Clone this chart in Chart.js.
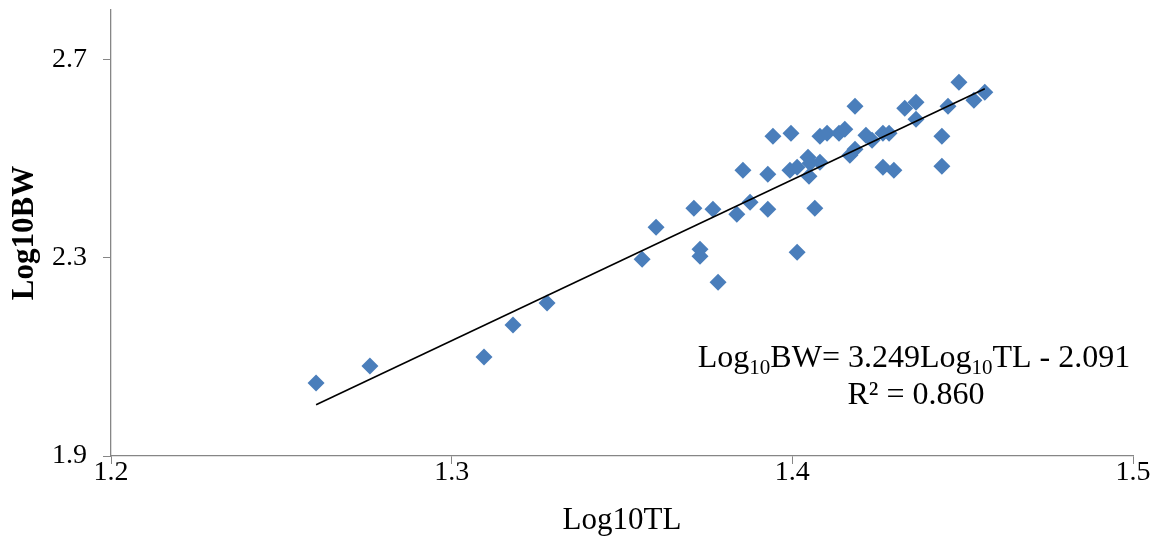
<!DOCTYPE html>
<html>
<head>
<meta charset="utf-8">
<script src="https://cdn.jsdelivr.net/npm/chart.js@4/dist/chart.umd.min.js"></script>
<style>
  html, body { margin: 0; padding: 0; background: #fff; }
  #wrap { width: 1157px; height: 536px; }
</style>
</head>
<body>
<div id="wrap"><canvas id="myChart" width="1157" height="536"></canvas></div>
<script>
// Log10 total length vs Log10 body weight
const tlValues = [
    1.2602, 1.2760, 1.3095, 1.3180, 1.3280, 1.3559, 1.3600, 1.3711, 1.3729, 1.3729,
    1.3767, 1.3782, 1.3837, 1.3855, 1.3876, 1.3928, 1.3928, 1.3943, 1.3996, 1.3993,
    1.4014, 1.4014, 1.4046, 1.4052, 1.4049, 1.4066, 1.4081, 1.4081, 1.4102, 1.4137,
    1.4154, 1.4169, 1.4184, 1.4184, 1.4216, 1.4234, 1.4266, 1.4284, 1.4266, 1.4298,
    1.4330, 1.4363, 1.4363, 1.4439, 1.4439, 1.4457, 1.4489, 1.4533, 1.4565
];
const bwValues = [
    2.0472, 2.0815, 2.0996, 2.1641, 2.2085, 2.2972, 2.3617, 2.4000, 2.3173, 2.3032,
    2.3980, 2.2508, 2.3879, 2.4766, 2.4121, 2.4685, 2.3980, 2.5452, 2.5512, 2.4766,
    2.3113, 2.4827, 2.5028, 2.4907, 2.4645, 2.4000, 2.4927, 2.5452, 2.5512, 2.5512,
    2.5593, 2.5069, 2.5190, 2.6057, 2.5472, 2.5371, 2.5512, 2.5512, 2.4827, 2.4766,
    2.6016, 2.6137, 2.5794, 2.5452, 2.4847, 2.6057, 2.6540, 2.6177, 2.6339
];
const xTicks = [1.2, 1.3, 1.4, 1.5];
const yTicks = [1.9, 2.3, 2.7];

// trendline from the equation printed on the chart
const slope = 3.249;
const intercept = -2.091;
const trendX = [1.2602, 1.4565];
const rSquared = '0.860';

const serif = "'Liberation Serif', 'Times New Roman', serif";
const axisGray = '#868686';

const points = tlValues.map((v, i) => ({x: v, y: bwValues[i]}));
const trendPoints = trendX.map(v => ({x: v, y: slope * v + intercept}));

// draw the equation with subscripts
function drawRich(ctx, segs, cx, baseline, size) {
    const subSize = Math.round(size * 0.65);
    let total = 0;
    segs.forEach(s => {
        ctx.font = (s.sub ? subSize : size) + 'px ' + serif;
        s.w = ctx.measureText(s.t).width;
        total += s.w;
    });
    let x = cx - total / 2;
    segs.forEach(s => {
        ctx.font = (s.sub ? subSize : size) + 'px ' + serif;
        ctx.fillText(s.t, x, baseline + (s.sub ? size * 0.22 : 0));
        x += s.w;
    });
}

const equationLabel = {
    id: 'equationLabel',
    afterDraw(chart) {
        const ctx = chart.ctx;
        ctx.save();
        ctx.fillStyle = '#000';
        ctx.textAlign = 'left';
        ctx.textBaseline = 'alphabetic';
        drawRich(ctx, [
            {t: 'Log'}, {t: '10', sub: true}, {t: 'BW= ' + slope + 'Log'},
            {t: '10', sub: true}, {t: 'TL - ' + Math.abs(intercept).toFixed(3)}
        ], 914, 367, 32);
        drawRich(ctx, [{t: 'R\u00b2 = ' + rSquared}], 916, 404, 32);
        ctx.restore();
    }
};

const ctx = document.getElementById('myChart').getContext('2d');
const myChart = new Chart(ctx, {
    type: 'scatter',
    data: {
        datasets: [
            {
                label: 'trend',
                data: trendPoints,
                showLine: true,
                borderColor: '#000',
                borderWidth: 1.6,
                pointRadius: 0,
                fill: false
            },
            {
                label: 'Log10BW',
                data: points,
                pointStyle: 'rectRot',
                pointRadius: 8.5,
                pointHoverRadius: 8.5,
                backgroundColor: '#4a7ebb',
                borderColor: '#4a7ebb',
                borderWidth: 0
            }
        ]
    },
    options: {
        responsive: false,
        animation: false,
        layout: {padding: {top: 10, right: 24, left: 0, bottom: 0}},
        plugins: {
            legend: {display: false},
            tooltip: {enabled: false}
        },
        scales: {
            x: {
                type: 'linear',
                min: 1.2,
                max: 1.5,
                afterBuildTicks: s => { s.ticks = xTicks.map(v => ({value: v})); },
                afterFit: s => { s.height = 80; s.paddingLeft = 0; s.paddingRight = 0; },
                ticks: {
                    color: '#000',
                    font: {family: serif, size: 28, lineHeight: 1},
                    padding: -5,
                    maxRotation: 0,
                    callback: v => v.toFixed(1)
                },
                grid: {drawOnChartArea: false, drawTicks: true, tickLength: 8, color: axisGray},
                border: {color: axisGray, width: 1.3},
                title: {
                    display: true,
                    text: 'Log10TL',
                    color: '#000',
                    font: {family: serif, size: 31, lineHeight: 1},
                    padding: {top: 2, bottom: 0}
                }
            },
            y: {
                type: 'linear',
                min: 1.9,
                max: 2.8,
                afterBuildTicks: s => { s.ticks = yTicks.map(v => ({value: v})); },
                afterFit: s => { s.width = 111; s.paddingTop = 0; s.paddingBottom = 0; },
                ticks: {
                    color: '#000',
                    font: {family: serif, size: 28, lineHeight: 0.5},
                    padding: 16,
                    callback: v => v.toFixed(1)
                },
                grid: {drawOnChartArea: false, drawTicks: true, tickLength: 8, color: axisGray},
                border: {color: axisGray, width: 1.3},
                title: {
                    display: true,
                    text: 'Log10BW',
                    color: '#000',
                    font: {family: serif, size: 31, weight: 'bold', lineHeight: 1.2},
                    padding: {top: 6, bottom: 0}
                }
            }
        }
    },
    plugins: [equationLabel]
});
</script>
</body>
</html>
